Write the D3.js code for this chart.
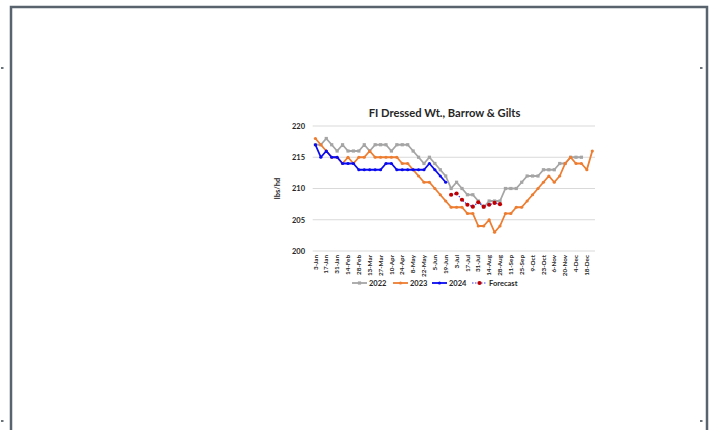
<!DOCTYPE html>
<html>
<head>
<meta charset="utf-8">
<script src="https://cdn.jsdelivr.net/npm/d3@7"></script>
<style>
  html, body { margin: 0; padding: 0; background: #fff; }
  svg { display: block; }
  text { font-family: Lato, "Open Sans", "Liberation Sans", sans-serif; fill: #262626; }
</style>
</head>
<body>
<svg id="chart" width="710" height="430"></svg>
<script>
// Weekly federally inspected dressed weights, barrows & gilts (lbs/head)
const weeks = [
  "3-Jan","10-Jan","17-Jan","24-Jan","31-Jan","7-Feb","14-Feb","21-Feb","28-Feb",
  "6-Mar","13-Mar","20-Mar","27-Mar","3-Apr","10-Apr","17-Apr","24-Apr",
  "1-May","8-May","15-May","22-May","29-May","5-Jun","12-Jun","19-Jun","26-Jun",
  "3-Jul","10-Jul","17-Jul","24-Jul","31-Jul","7-Aug","14-Aug","21-Aug","28-Aug",
  "4-Sep","11-Sep","18-Sep","25-Sep","2-Oct","9-Oct","16-Oct","23-Oct","30-Oct",
  "6-Nov","13-Nov","20-Nov","27-Nov","4-Dec","11-Dec","18-Dec","25-Dec"
];
// every other week carries a tick label
const tickLabels = weeks.filter((d, i) => i % 2 === 0);

const y2022 = [217,217,218,217,216,217,216,216,216,217,216,217,217,217,216,217,217,217,
  216,215,214,215,214,213,212,210,211,210,209,209,208,207,208,208,208,210,210,210,211,
  212,212,212,213,213,213,214,214,215,215,215];
const y2023 = [218,217,216,215,215,214,215,214,215,215,216,215,215,215,215,215,214,214,
  213,212,211,211,210,209,208,207,207,207,206,206,204,204,205,203,204,206,206,207,207,
  208,209,210,211,212,211,212,214,215,214,214,213,216];
const y2024 = [217,215,216,215,215,214,214,214,213,213,213,213,213,214,214,213,213,213,
  213,213,213,214,213,212,211];
// forecast runs from 26-Jun through 28-Aug
const forecastStart = 25;
const yForecast = [209.0,209.2,208.2,207.4,207.1,207.8,207.1,207.4,207.7,207.5];

const yTicks = [200, 205, 210, 215, 220];

const svg = d3.select("#chart");

// page frame
svg.append("rect")
  .attr("x", 11).attr("y", 7).attr("width", 696).attr("height", 440)
  .attr("fill", "none").attr("stroke", "#59636d").attr("stroke-width", 2.5);
[[1, 67], [1, 420], [700, 67], [700, 420]].forEach(([mx, my]) => {
  svg.append("rect").attr("x", mx).attr("y", my).attr("width", 2.5).attr("height", 2)
    .attr("fill", "#6b737a");
});

const x = d3.scaleBand().domain(weeks).range([312.7, 595]).padding(0);
const y = d3.scaleLinear().domain([200, 220]).range([251, 126]);
const cx = d => x(d) + x.bandwidth() / 2;

// gridlines
svg.append("g").selectAll("line").data(yTicks).join("line")
  .attr("x1", 312.7).attr("x2", 595)
  .attr("y1", d => y(d)).attr("y2", d => y(d))
  .attr("stroke", "#d9d9d9").attr("stroke-width", 1);

// y axis labels
const yAxis = d3.axisLeft(y).tickValues(yTicks).tickSize(0).tickPadding(0);
const gy = svg.append("g").attr("transform", "translate(305,0)").call(yAxis);
gy.select(".domain").remove();
gy.selectAll("text")
  .style("font-family", "Lato, sans-serif").style("font-size", "7.5px")
  .style("font-weight", "bold").attr("fill", "#404040").attr("dy", "0.32em");

svg.append("text")
  .attr("transform", "translate(277,188.5) rotate(-90)")
  .attr("text-anchor", "middle").attr("dy", "0.35em")
  .style("font-size", "7.5px").style("font-weight", "bold").attr("fill", "#404040")
  .text("lbs/hd");

// x axis labels (rotated)
const xAxis = d3.axisBottom(x).tickValues(tickLabels).tickSize(0).tickPadding(0);
const gx = svg.append("g").attr("transform", "translate(0,251)").call(xAxis);
gx.select(".domain").remove();
gx.selectAll("text")
  .attr("transform", "rotate(-90)")
  .attr("x", -4).attr("y", 0).attr("dy", "0.33em")
  .attr("text-anchor", "end")
  .style("font-family", "Lato, sans-serif").style("font-size", "6.3px")
  .style("font-weight", "bold").attr("fill", "#404040");

// title
svg.append("text")
  .attr("x", 444.5).attr("y", 116.5).attr("text-anchor", "middle")
  .style("font-size", "11.2px").style("font-weight", "bold").attr("fill", "#262626")
  .text("FI Dressed Wt., Barrow & Gilts");

function series(values, offset, color, opts) {
  const pts = values.map((v, i) => [cx(weeks[i + offset]), y(v)]);
  const line = d3.line();
  svg.append("path").attr("d", line(pts))
    .attr("fill", "none").attr("stroke", opts.lineColor || color)
    .attr("stroke-width", opts.width || 1.8)
    .attr("stroke-dasharray", opts.dash || null)
    .attr("stroke-linejoin", "round");
  const g = svg.append("g");
  if (opts.square) {
    g.selectAll("rect").data(pts).join("rect")
      .attr("x", d => d[0] - 1.6).attr("y", d => d[1] - 1.6)
      .attr("width", 3.2).attr("height", 3.2).attr("fill", opts.markColor || color);
  } else {
    g.selectAll("circle").data(pts).join("circle")
      .attr("cx", d => d[0]).attr("cy", d => d[1])
      .attr("r", opts.r || 1.5).attr("fill", opts.markColor || color);
  }
}

series(y2022, 0, "#a5a5a5", { square: true });
series(y2023, 0, "#ed7d31", { r: 1.6 });
series(y2024, 0, "#0a0af0", { r: 1.6 });
series(yForecast, forecastStart, "#3a3af5",
  { width: 1.2, dash: "1.5,1.5", markColor: "#c00000", r: 2.1 });

// legend
const legend = [
  { label: "2022", color: "#a5a5a5", x: 352, square: true },
  { label: "2023", color: "#ed7d31", x: 393 },
  { label: "2024", color: "#0a0af0", x: 432 },
  { label: "Forecast", color: "#3a3af5", x: 472, dash: "1.5,1.5", mark: "#c00000", r: 2.1 }
];
const ly = 283;
legend.forEach(d => {
  svg.append("line").attr("x1", d.x).attr("x2", d.x + 15).attr("y1", ly).attr("y2", ly)
    .attr("stroke", d.color).attr("stroke-width", d.dash ? 1.2 : 1.8)
    .attr("stroke-dasharray", d.dash || null);
  if (d.square) {
    svg.append("rect").attr("x", d.x + 7.5 - 1.6).attr("y", ly - 1.6)
      .attr("width", 3.2).attr("height", 3.2).attr("fill", d.color);
  } else {
    svg.append("circle").attr("cx", d.x + 7.5).attr("cy", ly)
      .attr("r", d.r || 1.6).attr("fill", d.mark || d.color);
  }
  svg.append("text").attr("x", d.x + 17).attr("y", ly).attr("dy", "0.35em")
    .style("font-size", "7.5px").style("font-weight", "bold").attr("fill", "#404040")
    .text(d.label);
});
</script>
</body>
</html>
